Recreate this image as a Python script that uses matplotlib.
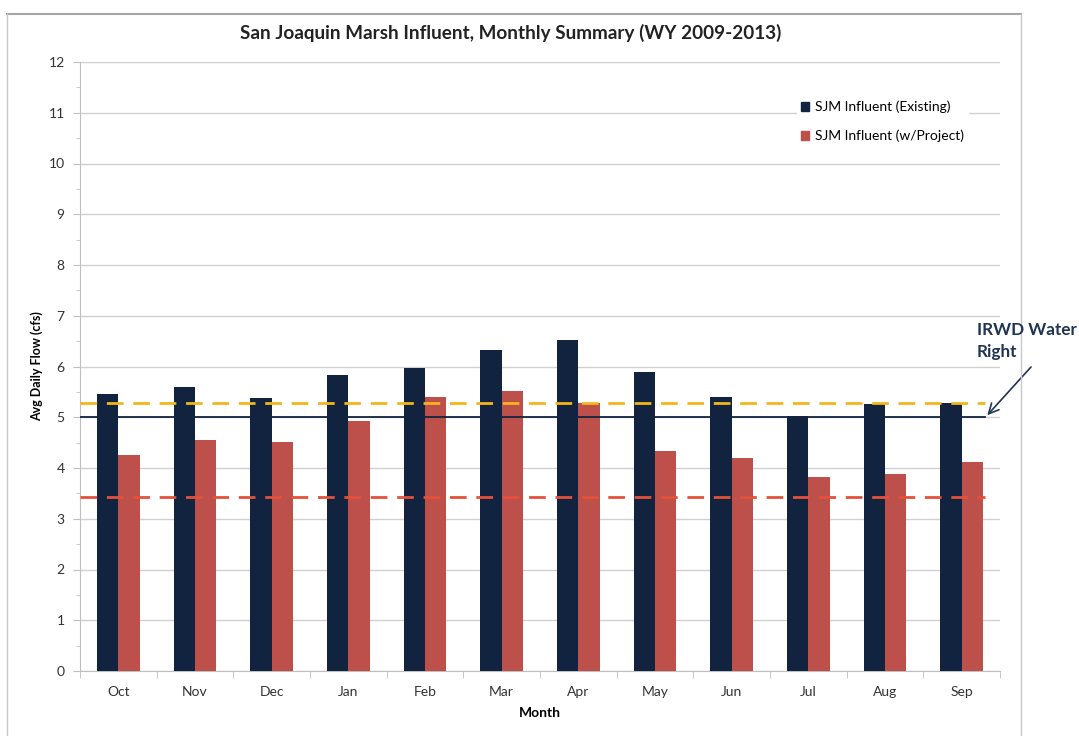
import matplotlib
matplotlib.use("Agg")
import matplotlib.pyplot as plt
from matplotlib.lines import Line2D
from matplotlib.patches import Patch
import numpy as np

plt.rcParams['font.family'] = ['Lato', 'DejaVu Sans']

months = ["Oct", "Nov", "Dec", "Jan", "Feb", "Mar", "Apr", "May", "Jun", "Jul", "Aug", "Sep"]
existing = [5.45, 5.60, 5.37, 5.84, 5.97, 6.32, 6.52, 5.89, 5.39, 5.03, 5.27, 5.29]
with_project = [4.25, 4.55, 4.52, 4.93, 5.40, 5.52, 5.29, 4.34, 4.19, 3.82, 3.88, 4.12]
existing_avg = 5.29
project_avg = 3.43
water_right = 5.0

navy = "#12233F"
red = "#BE504C"
gold = "#F2B51C"
orange_red = "#E4513A"
grey = "#BFBFBF"
label_blue = "#1F3553"

fig = plt.figure(figsize=(10.79, 7.36), dpi=100)
ax = fig.add_axes([80 / 1079, 1 - 671 / 736, 920 / 1079, 609 / 736])

x = np.arange(len(months))
w = 0.28
ax.bar(x - w / 2, existing, width=w, color=navy, label="SJM Influent (Existing)", zorder=3)
ax.bar(x + w / 2, with_project, width=w, color=red, label="SJM Influent (w/Project)", zorder=3)

x0, x1 = -0.5, 11.31
ax.plot([x0, x1], [existing_avg] * 2, color=gold, lw=2, ls=(0, (6, 3.5)), zorder=4)
ax.plot([x0, x1], [project_avg] * 2, color=orange_red, lw=2, ls=(0, (6, 3.5)), zorder=4)
ax.plot([x0, x1], [water_right] * 2, color=navy, lw=1.3, zorder=4)

ax.set_xlim(-0.5, 11.5)
ax.set_ylim(0, 12)
ax.set_yticks(range(0, 13))
ax.set_yticks(np.arange(0.5, 12, 1), minor=True)
ax.yaxis.grid(True, color="#D0D0D0", lw=1)
ax.set_axisbelow(True)

ax.set_xticks(x)
ax.set_xticklabels(months)
ax.set_xticks(np.arange(-0.5, 12, 1), minor=True)
ax.tick_params(axis="x", which="major", length=0, pad=11, labelsize=10, colors="#333333")
ax.tick_params(axis="x", which="minor", length=5, color=grey)
ax.tick_params(axis="y", which="major", length=5, color=grey, labelsize=10, labelcolor="#333333", pad=6)
ax.tick_params(axis="y", which="minor", length=3, color=grey)

for s in ["top", "right"]:
    ax.spines[s].set_visible(False)
for s in ["left", "bottom"]:
    ax.spines[s].set_color(grey)

ax.set_xlabel("Month", fontsize=10, fontweight="bold", labelpad=6)
ax.set_ylabel("Avg Daily Flow (cfs)", fontsize=9, fontweight="bold", labelpad=4)
fig.text(511 / 1079, 1 - 33 / 736, "San Joaquin Marsh Influent, Monthly Summary (WY 2009-2013)",
         ha="center", va="center", fontsize=13.6, fontweight="bold", color="#222222")

handles = [Patch(color=navy), Patch(color=red)]
leg = ax.legend(handles, ["SJM Influent (Existing)", "SJM Influent (w/Project)"],
                loc="upper right", bbox_to_anchor=(0.973, 0.955), frameon=True,
                fontsize=10, handlelength=0.6, handleheight=0.6, handletextpad=0.4,
                labelspacing=1.2, borderpad=0.3)
leg.get_frame().set_edgecolor("white")
leg.get_frame().set_facecolor("white")
leg.get_frame().set_alpha(1)

# Chart frame (top, left and right edges)
bx0, bx1, by = 7 / 1079, 1021 / 1079, 1 - 14 / 736
fig.add_artist(Line2D([bx0, bx1], [by, by], transform=fig.transFigure, color="#A6A6A6", lw=1.5))
fig.add_artist(Line2D([bx0, bx0], [0, by], transform=fig.transFigure, color="#C8C8C8", lw=1))
fig.add_artist(Line2D([bx1, bx1], [0, by], transform=fig.transFigure, color="#C8C8C8", lw=1))

# Water right callout: two left-aligned lines plus an arrow to the line's end
fig.text(977 / 1079, 1 - 330 / 736, "IRWD Water", ha="left", va="center",
         fontsize=12.3, fontweight="bold", color=label_blue)
fig.text(977 / 1079, 1 - 352 / 736, "Right", ha="left", va="center",
         fontsize=12.3, fontweight="bold", color=label_blue)
ax.annotate("", xy=(x1, water_right), xycoords="data",
            xytext=(1031 / 1079, 1 - 367 / 736), textcoords="figure fraction",
            arrowprops=dict(arrowstyle="->", color=label_blue, lw=1.2,
                            shrinkA=0, shrinkB=2, mutation_scale=18),
            annotation_clip=False)

fig.savefig("out.png", dpi=100)
